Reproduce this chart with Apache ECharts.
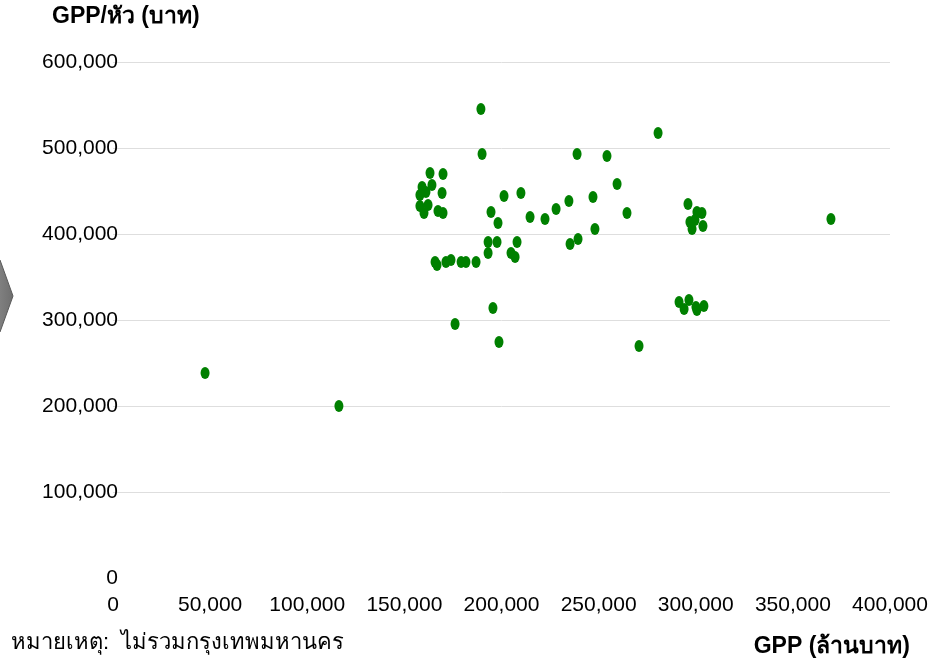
<!DOCTYPE html>
<html>
<head>
<meta charset="utf-8">
<script src="https://cdn.jsdelivr.net/npm/echarts@6/dist/echarts.min.js"></script>
<style>
html,body{margin:0;padding:0;background:#fff;}
#chart{width:933px;height:671px;}
</style>
</head>
<body>
<div id="chart"></div>
<script>
// GPP (million baht) per province, excluding Bangkok
const gppTotal = [
  47400, 116300, 189400, 190000, 238900, 254300, 280600,
  163200, 169900, 159100, 164200, 158000, 169400, 158000, 162200, 160100, 167300, 169900, 161100,
  194600, 201300, 210000, 198200, 214700, 222400, 228100, 234700, 247100, 259500, 264600,
  248100, 235300, 239400, 193100, 197700, 208000, 193100, 204900, 207000,
  165800, 166800, 171400, 174000, 179200, 181700, 186900,
  195600, 176100, 198700, 270800,
  296000, 300600, 303200, 297000, 299600, 303700, 298100, 369600,
  291400, 294000, 296500, 300100, 300600, 304200
];
// GPP per capita (baht)
const gppPerCapita = [
  238400, 200000, 545300, 493000, 493000, 490700, 517400,
  470900, 469800, 454700, 457000, 445300, 447700, 432600, 433700, 424400, 426700, 424400, 448800,
  425600, 444200, 447700, 412800, 419800, 417400, 429100, 438400, 443000, 458100, 424400,
  405800, 388400, 394200, 390700, 390700, 390700, 377900, 377900, 373300,
  367400, 364000, 367400, 369800, 367400, 367400, 367400,
  314000, 295300, 274400, 269800,
  434900, 425600, 424400, 414000, 416300, 409300, 405800, 417400,
  320900, 312800, 323300, 315100, 311600, 316300
];
const xTicks = [0, 50000, 100000, 150000, 200000, 250000, 300000, 350000, 400000];
const yTicks = [0, 100000, 200000, 300000, 400000, 500000, 600000];
const yTitle = 'GPP/หัว (บาท)';
const xTitle = 'GPP (ล้านบาท)';
const noteText = 'หมายเหตุ:  ไม่รวมกรุงเทพมหานคร';

const points = gppTotal.map((v, i) => [v, gppPerCapita[i]]);
const fmt = v => v === 0 ? '0' : v.toLocaleString('en-US');
const FONT = '"Liberation Sans", Arial, "Noto Sans", sans-serif';

const chart = echarts.init(document.getElementById('chart'), null, {renderer: 'canvas'});
chart.setOption({
  animation: false,
  backgroundColor: '#ffffff',
  grid: {left: 113, right: 43, top: 62, bottom: 93, containLabel: false},
  xAxis: {
    type: 'value',
    min: xTicks[0], max: xTicks[xTicks.length - 1], interval: xTicks[1] - xTicks[0],
    axisLine: {show: false},
    axisTick: {show: false},
    splitLine: {show: false},
    axisLabel: {
      margin: 17, color: '#000', fontSize: 21, fontFamily: FONT,
      formatter: fmt
    }
  },
  yAxis: {
    type: 'value',
    min: yTicks[0], max: yTicks[yTicks.length - 1], interval: yTicks[1] - yTicks[0],
    axisLine: {show: false},
    axisTick: {show: false},
    splitLine: {show: true, showMinLine: false, lineStyle: {color: '#dedede', width: 1}},
    axisLabel: {
      margin: -5, color: '#000', fontSize: 21, fontFamily: FONT,
      formatter: fmt
    }
  },
  series: [{
    type: 'scatter',
    data: points,
    symbol: 'circle',
    symbolSize: [9, 12],
    itemStyle: {color: '#008000', opacity: 1}
  }],
  graphic: [
    {type: 'text', left: 52, top: 5,
      style: {text: yTitle, fill: '#000', font: 'bold 23px ' + FONT}},
    {type: 'text', right: 23, top: 635,
      style: {text: xTitle, fill: '#000', font: 'bold 23px ' + FONT}},
    {type: 'text', left: 11, top: 632,
      style: {text: noteText, fill: '#000', font: '22px ' + FONT}},
    {type: 'polygon',
      shape: {points: [[-20, 260], [0, 260], [13, 296], [0, 332], [-20, 332]]},
      style: {
        fill: new echarts.graphic.LinearGradient(0, 0, 1, 0, [
          {offset: 0, color: '#9a9a9a'}, {offset: 1, color: '#6e6e6e'}
        ]),
        stroke: '#5a5a5a', lineWidth: 1
      }}
  ]
});
</script>
</body>
</html>
